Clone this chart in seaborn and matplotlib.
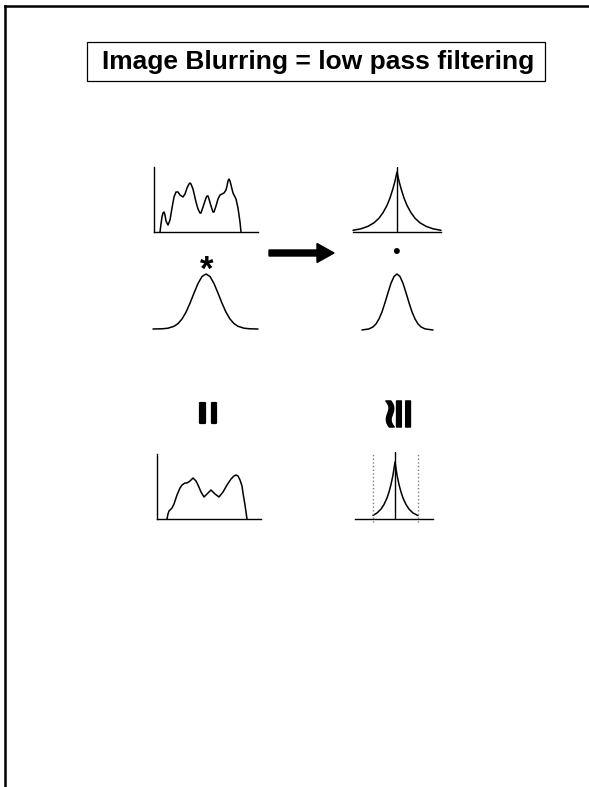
import numpy as np
import seaborn as sns
import matplotlib.pyplot as plt
import matplotlib.patheffects as pe
from matplotlib.patches import Rectangle

# values (x = offset in px-like units, y = height above baseline)
signal_x = [6, 7, 8, 9, 10, 11, 12, 14, 16, 18, 20, 22, 24, 26, 29, 31, 33, 35, 36,
            37, 39, 42, 44, 46, 47, 49, 52, 53, 54, 55, 57, 59, 60, 62, 64, 66, 68,
            70, 72, 73, 74, 75, 76, 77, 79, 82, 84, 86, 87]
signal_y = [0, 8, 15, 19, 20, 17, 11, 7, 12, 24, 35, 40, 40, 37, 35, 38, 44, 48, 49,
            48, 43, 30, 23, 19, 19, 25, 34, 36, 36, 33, 26, 20, 20, 26, 33, 37, 38,
            39, 42, 46, 51, 53, 51, 47, 39, 33, 24, 10, 0]

kernel_x = [-53, -44, -38, -32, -28, -24, -20, -16, -12, -8, -4, 0,
            4, 8, 12, 16, 20, 24, 28, 32, 38, 44, 52]
kernel_y = [0, 0.2, 0.8, 2.7, 5.4, 10, 16.8, 25.8, 35.9, 45.5, 52.5, 55,
            52.5, 45.5, 35.9, 25.8, 16.8, 10, 5.4, 2.7, 0.8, 0.2, 0]

spec_x = [-44, -36, -29, -23, -18, -14, -10, -7, -4, -2, 0,
          2, 4, 7, 10, 14, 18, 23, 29, 36, 44]
spec_y = [1.7, 3.2, 5.7, 9.2, 13.8, 19.3, 26.6, 34, 43.5, 51, 60,
          51, 43.5, 34, 26.6, 19.3, 13.8, 9.2, 5.7, 3.2, 1.7]

gspec_x = [-35, -28, -24, -21, -18, -15, -12, -9, -6, -3, 0,
           3, 6, 9, 12, 15, 18, 21, 24, 28, 36]
gspec_y = [0, 1.1, 3.1, 6.1, 11.1, 18.1, 27.3, 37.3, 46.7, 53.5, 56,
           53.5, 46.7, 37.3, 27.3, 18.1, 11.1, 6.1, 3.1, 1.1, 0]

blur_x = [10, 11, 12, 14, 15, 17, 20, 23, 25, 28, 30, 33, 36, 39, 41, 44, 47, 50,
          54, 58, 62, 66, 70, 74, 77, 79, 81, 83, 85, 86, 88, 90]
blur_y = [0, 5, 8, 10, 11, 15, 24, 31, 34, 36, 36, 38, 41, 38, 34, 27, 22, 25,
          29, 25, 22, 27, 34, 40, 43, 44, 43, 39, 33, 26, 14, 0]

cut_x = [-22, -18, -14, -11, -8, -6, -4, -2, 0, 2, 4, 6, 8, 11, 14, 18, 23]
cut_y = [3.6, 6, 9.9, 14.5, 21, 27, 34.5, 44, 57, 44, 34.5, 27, 21, 14.5, 9.9, 6, 3.4]
cut_edges = [-22, 23]

W, H = 589, 787


def box(x0, y0, x1, y1):
    return [x0 / W, 1 - y1 / H, (x1 - x0) / W, (y1 - y0) / H]


sns.set_style('white')
plt.rcParams['font.family'] = ['Liberation Sans', 'DejaVu Sans']
plt.rcParams['text.color'] = 'black'

fig = plt.figure(figsize=(W / 100, H / 100), dpi=100)

# overlay in pixel units for the slide decorations
ax0 = fig.add_axes([0, 0, 1, 1])
ax0.set_xlim(0, W)
ax0.set_ylim(H, 0)
ax0.axis('off')
ax0.plot([5, 5], [H, 6], color='black', lw=1.8, solid_capstyle='projecting')
ax0.plot([5, W], [6, 6], color='black', lw=1.8, solid_capstyle='projecting')
ax0.add_patch(Rectangle((87, 42), 458, 39, fill=False, lw=0.9, edgecolor='black'))
ax0.text(318, 62, 'Image Blurring = low pass filtering', ha='center', va='center',
         fontsize=19, fontweight='bold', color='black')
ax0.arrow(269, 253, 48, 0, width=6, head_width=19, head_length=17, color='black')

fat = [pe.withStroke(linewidth=1.6, foreground='black')]
ax0.text(207, 280, '*', ha='center', va='baseline', fontsize=25, fontweight='bold',
         color='black')
ax0.text(396, 253, '\u2022', ha='center', va='center', fontsize=16, color='black')
ax0.text(211, 413, '=', ha='center', va='center', rotation=90, fontsize=30,
         fontweight='bold', color='black', path_effects=fat)
ax0.text(400, 414, '\u2245', ha='center', va='center', rotation=90, fontsize=30,
         fontweight='bold', color='black', family=['DejaVu Sans'],
         path_effects=[pe.withStroke(linewidth=1.0, foreground='black')])


def panel(rect, x, y, xlim, ylim, spines=('bottom',)):
    ax = fig.add_axes(rect)
    ax.patch.set_alpha(0)
    sns.lineplot(x=x, y=y, ax=ax, color='black', linewidth=1.1, sort=False,
                 estimator=None, clip_on=False)
    ax.set_xlim(xlim)
    ax.set_ylim(ylim)
    ax.set_xticks([])
    ax.set_yticks([])
    ax.set_xlabel('')
    ax.set_ylabel('')
    for side in ['left', 'right', 'top', 'bottom']:
        ax.spines[side].set_visible(side in spines)
        ax.spines[side].set_linewidth(1.0)
        ax.spines[side].set_color('black')
    return ax


panel(box(154, 167, 258, 232), signal_x, signal_y, (0, 104), (0, 65), ('left', 'bottom'))
ax_b = panel(box(353, 167, 441, 232), spec_x, spec_y, (-44, 44), (0, 65))
ax_b.axvline(0, color='black', lw=1.0)
panel(box(153, 274, 258, 329), kernel_x, kernel_y, (-53, 52), (0, 55), ())
panel(box(362, 274, 433, 330), gspec_x, gspec_y, (-35, 36), (0, 56), ())
panel(box(157, 454, 261, 519), blur_x, blur_y, (0, 104), (0, 65), ('left', 'bottom'))
ax_f = panel(box(355, 452, 433, 519), cut_x, cut_y, (-40, 38), (0, 67))
ax_f.axvline(0, color='black', lw=1.0)
ax_f.vlines(cut_edges, -3, 66, colors='gray', linestyles=':', lw=1.0, clip_on=False)

fig.savefig('out.png', dpi=100)
